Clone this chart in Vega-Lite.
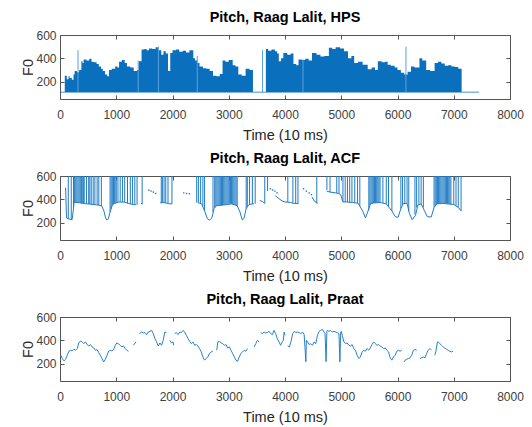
{
"$schema": "https://vega.github.io/schema/vega-lite/v6.json",
"padding": {"left": 20, "top": 9, "right": 14, "bottom": 4},
"spacing": 8,
"config": {
  "view": {"stroke": "#555555", "strokeWidth": 1},
  "axis": {"grid": false, "domain": false, "tickColor": "#555555", "tickSize": -4, "labelPadding": 8,
    "labelFont": "Liberation Sans", "labelFontSize": 12, "labelColor": "#404040", "format": "d",
    "titleFont": "Liberation Sans", "titleFontSize": 14.5, "titleFontWeight": "normal", "titleColor": "#262626"},
  "axisX": {"titlePadding": 8, "labelPadding": 14, "labelFlush": false},
  "axisY": {"titlePadding": 0},
  "title": {"font": "Liberation Sans", "fontSize": 14.5, "fontWeight": "bold", "color": "#000000", "offset": 4}
},
"datasets": {
  "hps": [
    {"t":0,"hi":112,"lo":105},{"t":85,"hi":250,"lo":105},{"t":120,"hi":220,"lo":105},{"t":150,"hi":245,"lo":105},{"t":170,"hi":230,"lo":105},{"t":210,"hi":215,"lo":105},{"t":240,"hi":260,"lo":105},{"t":260,"hi":290,"lo":105},{"t":300,"hi":280,"lo":105},{"t":340,"hi":300,"lo":105},{"t":380,"hi":375,"lo":105},{"t":400,"hi":360,"lo":105},{"t":420,"hi":390,"lo":105},{"t":470,"hi":380,"lo":105},{"t":520,"hi":395,"lo":105},{"t":560,"hi":370,"lo":105},{"t":600,"hi":365,"lo":105},{"t":650,"hi":350,"lo":105},{"t":690,"hi":330,"lo":105},{"t":730,"hi":310,"lo":105},{"t":760,"hi":290,"lo":105},{"t":800,"hi":260,"lo":105},{"t":840,"hi":245,"lo":105},{"t":870,"hi":300,"lo":105},{"t":920,"hi":310,"lo":105},{"t":980,"hi":330,"lo":105},{"t":1020,"hi":320,"lo":105},{"t":1050,"hi":370,"lo":105},{"t":1100,"hi":385,"lo":105},{"t":1150,"hi":360,"lo":105},{"t":1190,"hi":330,"lo":105},{"t":1250,"hi":320,"lo":105},{"t":1310,"hi":290,"lo":105},{"t":1370,"hi":300,"lo":105},{"t":1400,"hi":375,"lo":105},{"t":1450,"hi":475,"lo":105},{"t":1500,"hi":480,"lo":105},{"t":1540,"hi":470,"lo":105},{"t":1580,"hi":485,"lo":105},{"t":1640,"hi":480,"lo":105},{"t":1700,"hi":495,"lo":105},{"t":1740,"hi":470,"lo":105},{"t":1800,"hi":430,"lo":105},{"t":1840,"hi":460,"lo":105},{"t":1880,"hi":440,"lo":105},{"t":1920,"hi":290,"lo":105},{"t":1960,"hi":445,"lo":105},{"t":2000,"hi":470,"lo":105},{"t":2060,"hi":475,"lo":105},{"t":2120,"hi":455,"lo":105},{"t":2180,"hi":465,"lo":105},{"t":2240,"hi":450,"lo":105},{"t":2300,"hi":470,"lo":105},{"t":2370,"hi":400,"lo":105},{"t":2400,"hi":380,"lo":105},{"t":2440,"hi":360,"lo":105},{"t":2480,"hi":330,"lo":105},{"t":2540,"hi":315,"lo":105},{"t":2600,"hi":310,"lo":105},{"t":2660,"hi":290,"lo":105},{"t":2720,"hi":250,"lo":105},{"t":2780,"hi":245,"lo":105},{"t":2840,"hi":265,"lo":105},{"t":2890,"hi":380,"lo":105},{"t":2940,"hi":370,"lo":105},{"t":3000,"hi":385,"lo":105},{"t":3070,"hi":340,"lo":105},{"t":3120,"hi":330,"lo":105},{"t":3170,"hi":260,"lo":105},{"t":3230,"hi":250,"lo":105},{"t":3300,"hi":310,"lo":105},{"t":3370,"hi":300,"lo":105},{"t":3430,"hi":112,"lo":105},{"t":3660,"hi":480,"lo":105},{"t":3700,"hi":465,"lo":105},{"t":3760,"hi":475,"lo":105},{"t":3820,"hi":460,"lo":105},{"t":3860,"hi":440,"lo":105},{"t":3890,"hi":375,"lo":105},{"t":3930,"hi":400,"lo":105},{"t":3970,"hi":445,"lo":105},{"t":4040,"hi":430,"lo":105},{"t":4100,"hi":440,"lo":105},{"t":4150,"hi":350,"lo":105},{"t":4200,"hi":340,"lo":105},{"t":4240,"hi":390,"lo":105},{"t":4300,"hi":385,"lo":105},{"t":4360,"hi":395,"lo":105},{"t":4420,"hi":380,"lo":105},{"t":4480,"hi":445,"lo":105},{"t":4560,"hi":430,"lo":105},{"t":4630,"hi":415,"lo":105},{"t":4700,"hi":420,"lo":105},{"t":4780,"hi":490,"lo":105},{"t":4840,"hi":480,"lo":105},{"t":4900,"hi":495,"lo":105},{"t":4980,"hi":485,"lo":105},{"t":5050,"hi":460,"lo":105},{"t":5120,"hi":400,"lo":105},{"t":5180,"hi":420,"lo":105},{"t":5230,"hi":360,"lo":105},{"t":5300,"hi":370,"lo":105},{"t":5380,"hi":345,"lo":105},{"t":5470,"hi":305,"lo":105},{"t":5540,"hi":320,"lo":105},{"t":5600,"hi":300,"lo":105},{"t":5650,"hi":375,"lo":105},{"t":5720,"hi":365,"lo":105},{"t":5780,"hi":370,"lo":105},{"t":5825,"hi":345,"lo":105},{"t":5880,"hi":335,"lo":105},{"t":5950,"hi":320,"lo":105},{"t":6000,"hi":300,"lo":105},{"t":6060,"hi":275,"lo":105},{"t":6120,"hi":260,"lo":105},{"t":6180,"hi":285,"lo":105},{"t":6240,"hi":330,"lo":105},{"t":6300,"hi":320,"lo":105},{"t":6390,"hi":400,"lo":105},{"t":6440,"hi":380,"lo":105},{"t":6510,"hi":300,"lo":105},{"t":6580,"hi":290,"lo":105},{"t":6660,"hi":360,"lo":105},{"t":6720,"hi":370,"lo":105},{"t":6780,"hi":355,"lo":105},{"t":6840,"hi":335,"lo":105},{"t":6900,"hi":340,"lo":105},{"t":6960,"hi":330,"lo":105},{"t":7020,"hi":325,"lo":105},{"t":7080,"hi":310,"lo":105},{"t":7140,"hi":112,"lo":105},{"t":7450,"hi":112,"lo":105}
  ],
  "hpsSpikes": [
    {"t":320,"lo":105,"hi":470},{"t":6150,"lo":105,"hi":500},{"t":1750,"lo":105,"hi":500},{"t":1390,"lo":105,"hi":380},{"t":3600,"lo":105,"hi":470},{"t":2440,"lo":105,"hi":420},{"t":4320,"lo":105,"hi":390}
  ],
  "acfLine": [
    {"t":100,"f":500},{"t":115,"f":240},{"t":150,"f":232},{"t":215,"f":225},{"t":235,"f":300},{"t":250,"f":375},{"t":350,"f":370},{"t":450,"f":362},{"t":550,"f":358},{"t":650,"f":352},{"t":740,"f":345},{"t":780,"f":300},{"t":810,"f":240},{"t":830,"f":222},{"t":860,"f":232},{"t":890,"f":290},{"t":930,"f":350},{"t":970,"f":365},{"t":1050,"f":377},{"t":1150,"f":375},{"t":1250,"f":360},{"t":1350,"f":352},{"t":1380,"f":null},
    {"t":1440,"f":365},{"t":1470,"f":360},{"t":1480,"f":null},
    {"t":1780,"f":370},{"t":1850,"f":372},{"t":1930,"f":362},{"t":1990,"f":360},{"t":2010,"f":null},
    {"t":2450,"f":372},{"t":2520,"f":360},{"t":2570,"f":300},{"t":2620,"f":232},{"t":2660,"f":222},{"t":2700,"f":240},{"t":2740,"f":320},{"t":2780,"f":345},{"t":2900,"f":350},{"t":3050,"f":360},{"t":3150,"f":345},{"t":3200,"f":290},{"t":3240,"f":222},{"t":3270,"f":235},{"t":3310,"f":320},{"t":3360,"f":355},{"t":3450,"f":362},{"t":3480,"f":null},
    {"t":3550,"f":390},{"t":3600,"f":380},{"t":3640,"f":365},{"t":3650,"f":null},
    {"t":3830,"f":430},{"t":3880,"f":410},{"t":3950,"f":385},{"t":4000,"f":377},{"t":4050,"f":375},{"t":4100,"f":372},{"t":4150,"f":365},{"t":4240,"f":362},{"t":4260,"f":null},
    {"t":4480,"f":420},{"t":4520,"f":385},{"t":4580,"f":365},{"t":4600,"f":null},
    {"t":4740,"f":470},{"t":4800,"f":462},{"t":4900,"f":455},{"t":4950,"f":450},{"t":4990,"f":440},{"t":5030,"f":377},{"t":5100,"f":377},{"t":5200,"f":372},{"t":5300,"f":365},{"t":5380,"f":300},{"t":5430,"f":240},{"t":5470,"f":290},{"t":5520,"f":363},{"t":5600,"f":370},{"t":5700,"f":372},{"t":5800,"f":360},{"t":5900,"f":300},{"t":5960,"f":250},{"t":6010,"f":245},{"t":6060,"f":320},{"t":6100,"f":363},{"t":6170,"f":365},{"t":6210,"f":280},{"t":6260,"f":225},{"t":6320,"f":260},{"t":6360,"f":350},{"t":6420,"f":360},{"t":6480,"f":300},{"t":6530,"f":250},{"t":6600,"f":248},{"t":6650,"f":330},{"t":6700,"f":360},{"t":6800,"f":365},{"t":6900,"f":360},{"t":7000,"f":355},{"t":7080,"f":330},{"t":7130,"f":300}
  ],
  "acfRules": [
    {"t":147,"lo":232},{"t":200,"lo":226},{"t":240,"lo":330},{"t":260,"lo":374},{"t":280,"lo":373},{"t":300,"lo":372},{"t":320,"lo":370},{"t":340,"lo":369},{"t":360,"lo":368},{"t":380,"lo":366},{"t":395,"lo":365},{"t":415,"lo":364},{"t":430,"lo":363},{"t":470,"lo":362},{"t":510,"lo":360},{"t":530,"lo":359},{"t":555,"lo":358},{"t":590,"lo":356},{"t":620,"lo":354},{"t":660,"lo":352},{"t":690,"lo":350},{"t":735,"lo":345},{"t":890,"lo":290},{"t":910,"lo":320},{"t":930,"lo":350},{"t":950,"lo":358},{"t":965,"lo":363},{"t":980,"lo":365},{"t":1000,"lo":370},{"t":1030,"lo":377},{"t":1070,"lo":377},{"t":1110,"lo":376},{"t":1150,"lo":375},{"t":1200,"lo":365},{"t":1250,"lo":360},{"t":1290,"lo":357},{"t":1330,"lo":354},{"t":1370,"lo":352},
    {"t":1460,"lo":362},{"t":1800,"lo":370},{"t":1820,"lo":371},{"t":1850,"lo":372},{"t":1880,"lo":368},{"t":1920,"lo":362},{"t":1990,"lo":360},
    {"t":2430,"lo":372},{"t":2460,"lo":370},{"t":2500,"lo":365},{"t":2540,"lo":340},{"t":2570,"lo":300},{"t":2720,"lo":290},{"t":2750,"lo":325},{"t":2770,"lo":340},{"t":2790,"lo":345},{"t":2810,"lo":346},{"t":2830,"lo":348},{"t":2850,"lo":348},{"t":2870,"lo":349},{"t":2890,"lo":350},{"t":2910,"lo":352},{"t":2930,"lo":354},{"t":2950,"lo":356},{"t":2970,"lo":358},{"t":2990,"lo":360},{"t":3010,"lo":361},{"t":3030,"lo":362},{"t":3050,"lo":360},{"t":3070,"lo":357},{"t":3090,"lo":353},{"t":3110,"lo":350},{"t":3130,"lo":348},{"t":3150,"lo":345},{"t":3310,"lo":320},{"t":3330,"lo":340},{"t":3370,"lo":355},{"t":3420,"lo":360},{"t":3470,"lo":362},
    {"t":3640,"lo":365},{"t":3690,"lo":470},{"t":4050,"lo":375},{"t":4140,"lo":365},{"t":4190,"lo":363},{"t":4230,"lo":362},{"t":4565,"lo":365},
    {"t":4745,"lo":480},{"t":4800,"lo":462},{"t":4920,"lo":453},{"t":4960,"lo":448},{"t":5030,"lo":377},{"t":5070,"lo":377},{"t":5110,"lo":376},{"t":5150,"lo":374},{"t":5190,"lo":373},{"t":5240,"lo":370},{"t":5290,"lo":367},{"t":5330,"lo":340},
    {"t":5490,"lo":310},{"t":5510,"lo":350},{"t":5530,"lo":363},{"t":5550,"lo":365},{"t":5570,"lo":367},{"t":5590,"lo":368},{"t":5610,"lo":370},{"t":5630,"lo":371},{"t":5650,"lo":371},{"t":5670,"lo":372},{"t":5690,"lo":372},{"t":5740,"lo":368},{"t":5800,"lo":360},{"t":5840,"lo":340},{"t":5900,"lo":300},
    {"t":6060,"lo":320},{"t":6090,"lo":350},{"t":6130,"lo":364},{"t":6170,"lo":365},{"t":6200,"lo":300},{"t":6310,"lo":270},{"t":6340,"lo":330},{"t":6380,"lo":355},{"t":6420,"lo":360},{"t":6460,"lo":330},
    {"t":6650,"lo":330},{"t":6670,"lo":345},{"t":6690,"lo":355},{"t":6710,"lo":360},{"t":6730,"lo":362},{"t":6750,"lo":363},{"t":6770,"lo":364},{"t":6790,"lo":365},{"t":6810,"lo":365},{"t":6830,"lo":364},{"t":6850,"lo":363},{"t":6870,"lo":362},{"t":6890,"lo":361},{"t":6910,"lo":360},{"t":6930,"lo":358},{"t":6950,"lo":357},{"t":7000,"lo":355},{"t":7040,"lo":345},{"t":7080,"lo":330},{"t":7130,"lo":300}
  ],
  "acfDots": [
    {"t":1580,"f":478},{"t":1620,"f":470},{"t":1660,"f":462},{"t":1700,"f":450},
    {"t":2200,"f":455},{"t":2250,"f":450},{"t":2300,"f":448},
    {"t":3740,"f":490},{"t":3780,"f":480},{"t":3820,"f":470},{"t":3860,"f":455},
    {"t":4330,"f":490},{"t":4380,"f":470},{"t":4430,"f":455},{"t":4470,"f":440}
  ],
  "praat": [
    {"t":12,"f":272},{"t":41,"f":243},{"t":71,"f":223},{"t":100,"f":237},{"t":129,"f":271},{"t":159,"f":306},{"t":188,"f":314},{"t":218,"f":309},{"t":247,"f":323},{"t":276,"f":314},{"t":306,"f":329},{"t":335,"f":377},{"t":365,"f":394},{"t":394,"f":386},{"t":423,"f":371},{"t":453,"f":386},{"t":482,"f":363},{"t":512,"f":351},{"t":541,"f":363},{"t":570,"f":343},{"t":600,"f":334},{"t":629,"f":314},{"t":659,"f":320},{"t":688,"f":294},{"t":717,"f":271},{"t":747,"f":243},{"t":776,"f":214},{"t":806,"f":237},{"t":835,"f":271},{"t":864,"f":306},{"t":894,"f":314},{"t":923,"f":309},{"t":953,"f":320},{"t":982,"f":357},{"t":1011,"f":377},{"t":1041,"f":369},{"t":1070,"f":357},{"t":1100,"f":343},{"t":1129,"f":351},{"t":1158,"f":329},{"t":1188,"f":314},{"t":1217,"f":306},{"t":1240,"f":null},
    {"t":1305,"f":357},{"t":1352,"f":386},{"t":1380,"f":null},
    {"t":1411,"f":457},{"t":1452,"f":471},{"t":1482,"f":463},{"t":1511,"f":466},{"t":1541,"f":448},{"t":1570,"f":471},{"t":1599,"f":477},{"t":1629,"f":485},{"t":1658,"f":457},{"t":1688,"f":414},{"t":1717,"f":386},{"t":1746,"f":351},{"t":1776,"f":377},{"t":1805,"f":357},{"t":1835,"f":400},{"t":1864,"f":471},{"t":1893,"f":466},{"t":1920,"f":null},
    {"t":1952,"f":400},{"t":1982,"f":377},{"t":2011,"f":386},{"t":2020,"f":357},{"t":2030,"f":null},
    {"t":2040,"f":457},{"t":2070,"f":466},{"t":2099,"f":448},{"t":2129,"f":471},{"t":2158,"f":466},{"t":2187,"f":485},{"t":2217,"f":471},{"t":2246,"f":443},{"t":2276,"f":414},{"t":2305,"f":391},{"t":2334,"f":371},{"t":2364,"f":386},{"t":2393,"f":357},{"t":2423,"f":363},{"t":2452,"f":351},{"t":2481,"f":329},{"t":2511,"f":300},{"t":2540,"f":257},{"t":2570,"f":229},{"t":2599,"f":243},{"t":2628,"f":257},{"t":2658,"f":286},{"t":2687,"f":300},{"t":2717,"f":306},{"t":2750,"f":null},
    {"t":2787,"f":314},{"t":2805,"f":386},{"t":2834,"f":391},{"t":2864,"f":377},{"t":2893,"f":371},{"t":2922,"f":357},{"t":2952,"f":363},{"t":2981,"f":334},{"t":3011,"f":343},{"t":3040,"f":314},{"t":3069,"f":286},{"t":3099,"f":257},{"t":3128,"f":229},{"t":3158,"f":220},{"t":3187,"f":257},{"t":3216,"f":286},{"t":3246,"f":300},{"t":3275,"f":314},{"t":3305,"f":306},{"t":3334,"f":329},{"t":3380,"f":null},
    {"t":3452,"f":343},{"t":3481,"f":371},{"t":3510,"f":400},{"t":3540,"f":386},{"t":3560,"f":null},
    {"t":3569,"f":466},{"t":3599,"f":457},{"t":3628,"f":471},{"t":3657,"f":463},{"t":3687,"f":466},{"t":3716,"f":477},{"t":3746,"f":457},{"t":3775,"f":448},{"t":3804,"f":485},{"t":3834,"f":457},{"t":3863,"f":414},{"t":3893,"f":386},{"t":3922,"f":357},{"t":3951,"f":386},{"t":3970,"f":400},{"t":3985,"f":470},{"t":4000,"f":443},{"t":4015,"f":null},
    {"t":4047,"f":351},{"t":4077,"f":343},{"t":4106,"f":386},{"t":4136,"f":457},{"t":4165,"f":477},{"t":4194,"f":466},{"t":4224,"f":471},{"t":4253,"f":466},{"t":4283,"f":457},{"t":4312,"f":471},{"t":4341,"f":448},{"t":4371,"f":215},{"t":4380,"f":400},{"t":4400,"f":386},{"t":4430,"f":363},{"t":4459,"f":371},{"t":4488,"f":357},{"t":4518,"f":386},{"t":4547,"f":371},{"t":4577,"f":443},{"t":4606,"f":477},{"t":4635,"f":485},{"t":4665,"f":494},{"t":4694,"f":471},{"t":4712,"f":457},{"t":4730,"f":215},{"t":4745,"f":480},{"t":4753,"f":485},{"t":4782,"f":477},{"t":4812,"f":485},{"t":4841,"f":471},{"t":4871,"f":477},{"t":4900,"f":471},{"t":4929,"f":466},{"t":4959,"f":457},{"t":4976,"f":215},{"t":4990,"f":470},{"t":5000,"f":477},{"t":5018,"f":443},{"t":5047,"f":386},{"t":5076,"f":371},{"t":5106,"f":377},{"t":5135,"f":357},{"t":5165,"f":351},{"t":5194,"f":363},{"t":5223,"f":329},{"t":5253,"f":314},{"t":5282,"f":271},{"t":5312,"f":243},{"t":5341,"f":257},{"t":5370,"f":300},{"t":5400,"f":314},{"t":5429,"f":306},{"t":5459,"f":329},{"t":5488,"f":314},{"t":5517,"f":334},{"t":5547,"f":363},{"t":5576,"f":386},{"t":5606,"f":371},{"t":5635,"f":357},{"t":5664,"f":363},{"t":5694,"f":349},{"t":5723,"f":343},{"t":5753,"f":329},{"t":5782,"f":334},{"t":5811,"f":314},{"t":5841,"f":300},{"t":5870,"f":249},{"t":5900,"f":229},{"t":5929,"f":257},{"t":5958,"f":271},{"t":5988,"f":306},{"t":6017,"f":314},{"t":6047,"f":306},{"t":6076,"f":314},{"t":6095,"f":null},
    {"t":6117,"f":214},{"t":6135,"f":229},{"t":6164,"f":237},{"t":6194,"f":243},{"t":6223,"f":249},{"t":6252,"f":271},{"t":6282,"f":314},{"t":6311,"f":320},{"t":6341,"f":314},{"t":6370,"f":null},
    {"t":6399,"f":243},{"t":6458,"f":257},{"t":6488,"f":249},{"t":6517,"f":286},{"t":6546,"f":314},{"t":6576,"f":329},{"t":6605,"f":314},{"t":6630,"f":null},
    {"t":6664,"f":271},{"t":6680,"f":300},{"t":6710,"f":386},{"t":6723,"f":386},{"t":6752,"f":371},{"t":6782,"f":357},{"t":6811,"f":343},{"t":6840,"f":334},{"t":6870,"f":323},{"t":6899,"f":314},{"t":6929,"f":306},{"t":6958,"f":300},{"t":6987,"f":306}
  ]
},
"vconcat": [
  {
    "width": 450, "height": 64,
    "title": {"text": "Pitch, Raag Lalit, HPS"},
    "layer": [
      {"data": {"name": "hps"},
       "mark": {"type": "area", "interpolate": "step-after", "color": "#0a6fbd"},
       "encoding": {
         "x": {"field": "t", "type": "quantitative", "scale": {"domain": [0, 8000], "nice": false}, "axis": {"values": [0,1000,2000,3000,4000,5000,6000,7000,8000], "title": "Time (10 ms)"}},
         "y": {"field": "hi", "type": "quantitative", "scale": {"domain": [50, 600], "nice": false, "zero": false}, "axis": {"values": [200,400,600], "title": "F0"}},
         "y2": {"field": "lo"}}},
      {"data": {"name": "hpsSpikes"},
       "mark": {"type": "rule", "color": "#5aa2da", "strokeWidth": 1},
       "encoding": {
         "x": {"field": "t", "type": "quantitative", "axis": {"orient": "top", "labels": false, "title": null, "values": [0,1000,2000,3000,4000,5000,6000,7000,8000]}},
         "y": {"field": "lo", "type": "quantitative", "axis": {"orient": "right", "labels": false, "title": null, "values": [200,400,600]}},
         "y2": {"field": "hi"}}}
    ],
    "resolve": {"axis": {"x": "independent", "y": "independent"}}
  },
  {
    "width": 450, "height": 64,
    "title": {"text": "Pitch, Raag Lalit, ACF"},
    "layer": [
      {"data": {"name": "acfRules"},
       "mark": {"type": "rule", "color": "#1f7cc4", "strokeWidth": 1},
       "encoding": {
         "x": {"field": "t", "type": "quantitative", "scale": {"domain": [0, 8000], "nice": false}, "axis": {"values": [0,1000,2000,3000,4000,5000,6000,7000,8000], "title": "Time (10 ms)"}},
         "y": {"field": "lo", "type": "quantitative", "scale": {"domain": [50, 600], "nice": false, "zero": false}, "axis": {"values": [200,400,600], "title": "F0"}},
         "y2": {"datum": 600}}},
      {"data": {"name": "acfLine"},
       "mark": {"type": "line", "color": "#1f7cc4", "strokeWidth": 1, "invalid": "break-paths-filter-domains"},
       "encoding": {
         "x": {"field": "t", "type": "quantitative", "axis": {"orient": "top", "labels": false, "title": null, "values": [0,1000,2000,3000,4000,5000,6000,7000,8000]}},
         "y": {"field": "f", "type": "quantitative", "axis": {"orient": "right", "labels": false, "title": null, "values": [200,400,600]}}}},
      {"data": {"name": "acfDots"},
       "mark": {"type": "point", "filled": true, "shape": "square", "size": 2, "color": "#1f7cc4", "opacity": 1},
       "encoding": {
         "x": {"field": "t", "type": "quantitative", "axis": null},
         "y": {"field": "f", "type": "quantitative", "axis": null}}}
    ],
    "resolve": {"axis": {"x": "independent", "y": "independent"}}
  },
  {
    "width": 450, "height": 64,
    "title": {"text": "Pitch, Raag Lalit, Praat"},
    "layer": [
      {"data": {"name": "praat"},
       "mark": {"type": "line", "color": "#2a80c8", "strokeWidth": 1, "invalid": "break-paths-filter-domains"},
       "encoding": {
         "x": {"field": "t", "type": "quantitative", "scale": {"domain": [0, 8000], "nice": false}, "axis": {"values": [0,1000,2000,3000,4000,5000,6000,7000,8000], "title": "Time (10 ms)"}},
         "y": {"field": "f", "type": "quantitative", "scale": {"domain": [50, 600], "nice": false, "zero": false}, "axis": {"values": [200,400,600], "title": "F0"}}}},
      {"data": {"name": "praat"},
       "mark": {"type": "line", "strokeOpacity": 0, "invalid": "break-paths-filter-domains"},
       "encoding": {
         "x": {"field": "t", "type": "quantitative", "axis": {"orient": "top", "labels": false, "title": null, "values": [0,1000,2000,3000,4000,5000,6000,7000,8000]}},
         "y": {"field": "f", "type": "quantitative", "axis": {"orient": "right", "labels": false, "title": null, "values": [200,400,600]}}}}
    ],
    "resolve": {"axis": {"x": "independent", "y": "independent"}}
  }
]
}
